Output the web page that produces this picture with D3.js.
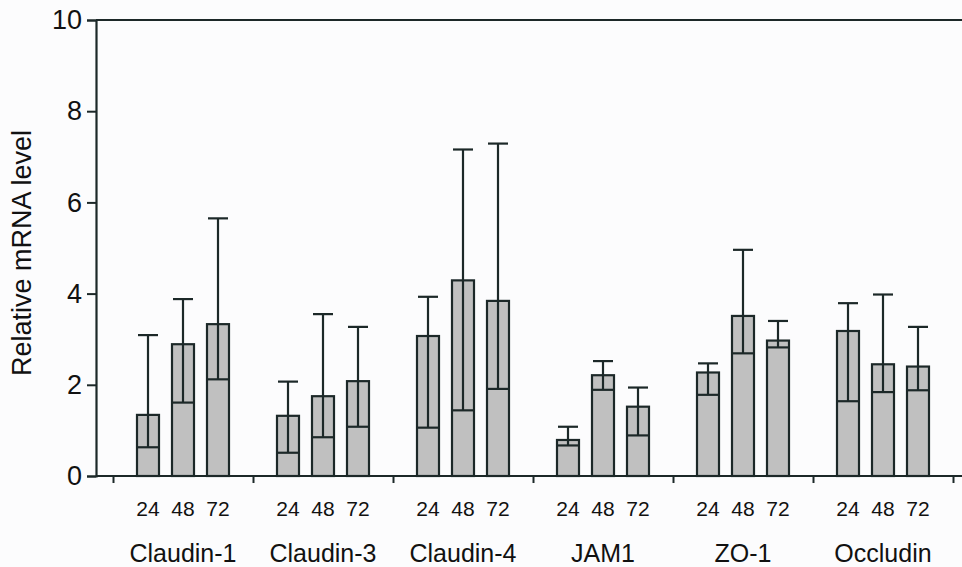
<!DOCTYPE html>
<html lang="en">
<head>
<meta charset="UTF-8">
<title>Relative mRNA level</title>
<script src="https://d3js.org/d3.v7.min.js"></script>
<style>
  body { margin: 0; background: #fcfcfd; }
  text { font-family: "Liberation Sans", Arial, sans-serif; fill: #111; }
</style>
</head>
<body>
<script>
  var genes = ["Claudin-1", "Claudin-3", "Claudin-4", "JAM1", "ZO-1", "Occludin"];
  var times = ["24", "48", "72"];
  // bar heights (mean), upper and lower ends of the error bars, per gene: 24, 48, 72 h
  var means = [
    [1.34, 2.89, 3.33],
    [1.32, 1.75, 2.08],
    [3.07, 4.29, 3.84],
    [0.79, 2.21, 1.52],
    [2.27, 3.51, 2.97],
    [3.18, 2.45, 2.40]
  ];
  var upper = [
    [3.09, 3.88, 5.65],
    [2.07, 3.55, 3.27],
    [3.93, 7.16, 7.29],
    [1.08, 2.52, 1.94],
    [2.47, 4.96, 3.40],
    [3.79, 3.98, 3.27]
  ];
  var lower = [
    [0.63, 1.61, 2.12],
    [0.51, 0.85, 1.08],
    [1.06, 1.44, 1.91],
    [0.67, 1.89, 0.89],
    [1.78, 2.69, 2.82],
    [1.64, 1.84, 1.88]
  ];
  var yTicks = [0, 2, 4, 6, 8, 10];

  var width = 962, height = 567;
  var stroke = "#1c2828";
  var barW = 22, capW = 20;

  var svg = d3.select("body").append("svg")
    .attr("width", width)
    .attr("height", height);

  var y = d3.scaleLinear().domain([0, 10]).range([476, 20]);
  var xGroup = d3.scaleBand().domain(genes).range([113, 953]).padding(0);
  var xTime = d3.scalePoint().domain(times).range([35, 105]);
  var xTick = d3.scaleLinear().domain([0, genes.length]).range([113, 953]);

  var rows = [];
  genes.forEach(function (g, i) {
    times.forEach(function (t, j) {
      rows.push({ gene: g, time: t, mean: means[i][j], hi: upper[i][j], lo: lower[i][j] });
    });
  });

  // top frame line
  svg.append("line")
    .attr("x1", 96).attr("x2", width)
    .attr("y1", y(10)).attr("y2", y(10))
    .attr("stroke", stroke).attr("stroke-width", 2.2);

  // y axis
  var yAxis = svg.append("g")
    .attr("transform", "translate(96,0)")
    .call(d3.axisLeft(y).tickValues(yTicks).tickSize(9).tickPadding(5));
  yAxis.select(".domain").attr("stroke", stroke).attr("stroke-width", 2.2);
  yAxis.selectAll(".tick line").attr("stroke", stroke).attr("stroke-width", 2);
  yAxis.selectAll(".tick text")
    .attr("font-size", 27)
    .attr("font-family", "Liberation Sans, Arial, sans-serif")
    .attr("fill", "#111");

  // bars
  var bars = svg.selectAll("g.bar")
    .data(rows)
    .enter()
    .append("g")
    .attr("class", "bar")
    .attr("transform", function (d) {
      return "translate(" + (xGroup(d.gene) + xTime(d.time)) + ",0)";
    });

  bars.append("rect")
    .attr("x", -barW / 2)
    .attr("width", barW)
    .attr("y", function (d) { return y(d.mean); })
    .attr("height", function (d) { return y(0) - y(d.mean); })
    .attr("fill", "#c0c0c0")
    .attr("stroke", stroke)
    .attr("stroke-width", 2.2);

  bars.append("line")
    .attr("x1", 0).attr("x2", 0)
    .attr("y1", function (d) { return y(d.lo); })
    .attr("y2", function (d) { return y(d.hi); })
    .attr("stroke", stroke).attr("stroke-width", 2.2);

  bars.append("line")
    .attr("x1", -capW / 2).attr("x2", capW / 2)
    .attr("y1", function (d) { return y(d.hi); })
    .attr("y2", function (d) { return y(d.hi); })
    .attr("stroke", stroke).attr("stroke-width", 2.2);

  bars.append("line")
    .attr("x1", -barW / 2).attr("x2", barW / 2)
    .attr("y1", function (d) { return y(d.lo); })
    .attr("y2", function (d) { return y(d.lo); })
    .attr("stroke", stroke).attr("stroke-width", 2.2);

  // x axis
  svg.append("line")
    .attr("x1", 96).attr("x2", width)
    .attr("y1", y(0)).attr("y2", y(0))
    .attr("stroke", stroke).attr("stroke-width", 2.2);

  var xAxis = svg.append("g")
    .attr("transform", "translate(0," + y(0) + ")")
    .call(d3.axisBottom(xTick).ticks(genes.length).tickSize(7).tickFormat(""));
  xAxis.select(".domain").remove();
  xAxis.selectAll(".tick line").attr("stroke", stroke).attr("stroke-width", 2);

  svg.selectAll("text.time")
    .data(rows)
    .enter()
    .append("text")
    .attr("class", "time")
    .attr("x", function (d) { return xGroup(d.gene) + xTime(d.time); })
    .attr("y", 516)
    .attr("text-anchor", "middle")
    .attr("font-size", 21)
    .text(function (d) { return d.time; });

  svg.selectAll("text.gene")
    .data(genes)
    .enter()
    .append("text")
    .attr("class", "gene")
    .attr("x", function (d) { return xGroup(d) + xGroup.bandwidth() / 2; })
    .attr("y", 562)
    .attr("text-anchor", "middle")
    .attr("font-size", 25)
    .text(function (d) { return d; });

  svg.append("text")
    .attr("transform", "translate(31,253) rotate(-90)")
    .attr("text-anchor", "middle")
    .attr("font-size", 27)
    .text("Relative mRNA level");
</script>
</body>
</html>
